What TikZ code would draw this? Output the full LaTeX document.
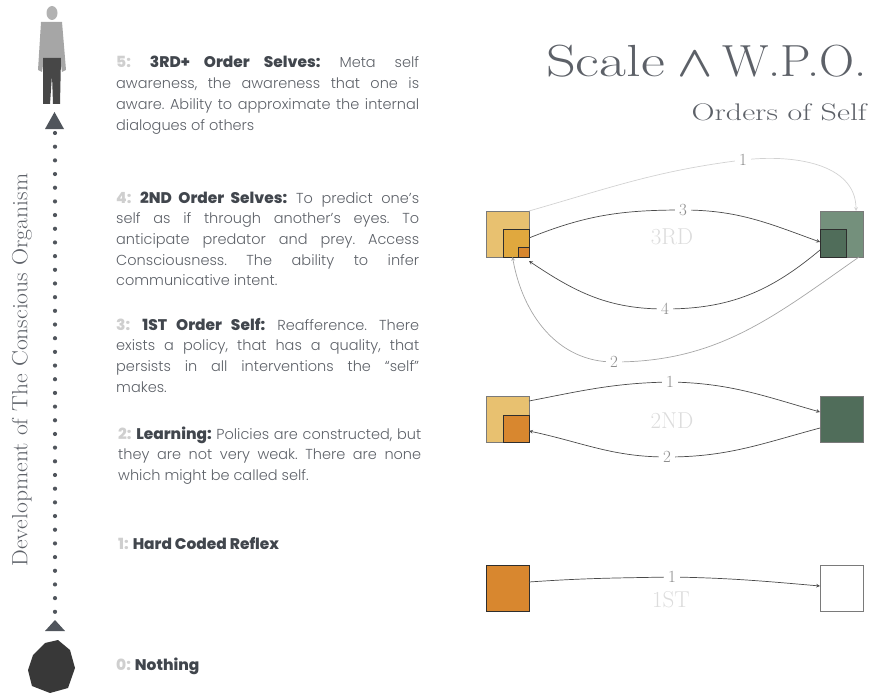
\documentclass[tikz,border=0pt]{standalone}
\usepackage{fontspec}
\usepackage{graphicx}
\usepackage{xcolor}
\usetikzlibrary{positioning}

\newfontfamily\bodyfont{Poppins Light}[BoldFont={Poppins ExtraBold}]
\hyphenpenalty=10000
\exhyphenpenalty=10000
\frenchspacing

\definecolor{txtgray}{HTML}{5D6168}
\definecolor{headgray}{HTML}{41464D}
\definecolor{numgray}{HTML}{CFCFCF}
\definecolor{axisgray}{HTML}{50555C}
\definecolor{ochrelight}{HTML}{E8C170}
\definecolor{ochre}{HTML}{E0A83E}
\definecolor{orangeb}{HTML}{D8872F}
\definecolor{sagelight}{HTML}{74907C}
\definecolor{sagedark}{HTML}{506D5A}
\definecolor{boxgray}{HTML}{7A7A7A}
\definecolor{boxdark}{HTML}{2E2E2E}
\definecolor{edgegray}{HTML}{4A4A4A}
\definecolor{midgray}{HTML}{A6A6A6}
\definecolor{faintgray}{HTML}{D2D2D2}
\definecolor{lblgray}{HTML}{8C8C8C}
\definecolor{ordgray}{HTML}{DCDCDC}

\newcommand{\ordhead}[2]{{\bfseries\fontsize{15.4}{20.7}\selectfont\color{numgray}#1:}
    {\bfseries\fontsize{15.4}{20.7}\selectfont\color{headgray}#2}}
\newcommand{\wide}[2]{\scalebox{#1}[1]{#2}}

\tikzset{
    blurb/.style={anchor=base west, text width=303pt, inner sep=0pt,
        align=justify, text=txtgray,
        font=\bodyfont\fontsize{14.5}{20.7}\selectfont},
    outbox/.style={draw=boxgray, line width=0.8pt, minimum width=43pt,
        minimum height=46pt, inner sep=0pt, outer sep=0pt},
    inbox/.style={draw=boxdark, line width=0.8pt, inner sep=0pt, outer sep=0pt},
    edge/.style={-stealth, draw=edgegray, line width=0.7pt},
    softedge/.style={-stealth, draw=midgray, line width=0.7pt},
    faintedge/.style={-stealth, draw=faintgray, line width=0.7pt},
    lbl/.style={fill=white, inner xsep=4pt, inner ysep=1pt, text=lblgray,
        font=\fontsize{17}{17}\selectfont},
    ordlbl/.style={text=ordgray, font=\fontsize{23}{23}\selectfont}
}

\begin{document}
\begin{tikzpicture}[x=1pt,y=1pt]

    \useasboundingbox (0,0) rectangle (871,-693);

    % title
    \node[anchor=base east, inner sep=0pt, text=txtgray,
        font=\fontsize{45}{45}\selectfont] (title) at (867,-77)
        {\wide{1.3}{Scale}\hspace{13pt}\scalebox{1.85}[1.75]{\boldmath$\wedge$}\hspace{9pt}\wide{1.08}{W.P.O.}};
    \node[anchor=base east, inner sep=0pt, text=txtgray,
        font=\fontsize{24}{24}\selectfont] (subtitle) at (867,-121)
        {\wide{1.33}{Orders of Self}};

    % axis
    \node[rotate=90, text=txtgray, font=\fontsize{22}{22}\selectfont]
        (axislabel) at (22,-370) {\wide{1.075}{Development of The Conscious Organism}};
    \foreach \i in {0,...,35}
        \fill[axisgray] (55,-133-13.68*\i) circle (2.1pt);
    \fill[axisgray] (45,-129) -- (54.5,-112) -- (64,-129) -- cycle;
    \fill[axisgray] (45,-631) -- (55,-620) -- (65,-631) -- cycle;

    % human and rock
    \fill[black!30] (52,-13) ellipse (5.5 and 7);
    \fill[black!35] (41,-22) -- (62,-22) -- (66,-70) -- (62,-72)
        -- (60,-58) -- (44,-58) -- (42,-72) -- (38,-70) -- cycle;
    \fill[black!72] (43,-58) -- (61,-58) -- (60,-104) -- (53,-104)
        -- (52,-75) -- (50,-104) -- (43,-104) -- cycle;
    \fill[black!78] (33,-655) -- (45,-643) -- (58,-640) -- (70,-650)
        -- (75,-668) -- (68,-688) -- (50,-693) -- (32,-686)
        -- (28,-670) -- cycle;

    % orders
    \node[blurb] (o5) at (116,-68) {\ordhead{5}{3RD+ Order Selves:} Meta self\linebreak
        awareness, the awareness that one is\linebreak
        aware. Ability to approximate the internal\linebreak
        dialogues of others};
    \node[blurb] (o4) at (116,-203) {\ordhead{4}{2ND Order Selves:} To predict one’s\linebreak
        self as if through another’s eyes. To\linebreak
        anticipate predator and prey. Access\linebreak
        Consciousness. The ability to infer\linebreak
        communicative intent.};
    \node[blurb] (o3) at (116,-330) {\ordhead{3}{1ST Order Self:} Reafference. There\linebreak
        exists a policy, that has a quality, that\linebreak
        persists in all interventions the “self”\linebreak
        makes.};
    \node[blurb] (o2) at (118,-439) {\ordhead{2}{Learning:} Policies are constructed, but\linebreak
        they are not very weak. There are none\linebreak
        which might be called self.};
    \node[blurb] (o1) at (118,-549) {\ordhead{1}{Hard Coded Reflex}};
    \node[blurb] (o0) at (116,-670) {\ordhead{0}{Nothing}};

    % 3RD
    \node[outbox, fill=ochrelight] (L3) at (507.5,-234) {};
    \node[outbox, fill=sagelight, right=291pt of L3] (R3) {};
    \node[inbox, fill=ochre, minimum width=26pt, minimum height=28pt,
        anchor=south east] (L3m) at (L3.south east) {};
    \node[inbox, fill=orangeb, minimum width=11pt, minimum height=10pt,
        anchor=south east] (L3s) at (L3.south east) {};
    \node[inbox, fill=sagedark, minimum width=26pt, minimum height=28pt,
        anchor=south west] (R3m) at (R3.south west) {};
    \node[ordlbl] (t3) at (672,-237) {3RD};

    \coordinate (k31) at (743,-160);
    \coordinate (k33) at (683,-210);
    \coordinate (k34) at (665,-309);
    \coordinate (k32) at (614,-362);

    \draw[faintedge] (L3.north east) to[out=16,in=187] (k31)
        node[lbl] (n31) {1} to[out=7,in=90] ([xshift=-7pt]R3.north east);
    \draw[edge] ([yshift=-4pt]L3.east) to[out=22,in=180] (k33)
        node[lbl] (n33) {3} to[out=0,in=160] ([yshift=-8pt]R3.west);
    \draw[edge] ([yshift=-16pt]R3.west) to[out=220,in=0] (k34)
        node[lbl] (n34) {4} to[out=180,in=-34] ([yshift=-4pt]L3.south east);
    \draw[softedge] ([xshift=-4pt]R3.south east) to[out=215,in=0] (k32)
        node[lbl] (n32) {2} to[out=180,in=-80] ([xshift=5pt]L3.south);

    % 2ND
    \node[outbox, fill=ochrelight, below=139pt of L3] (L2) {};
    \node[outbox, fill=sagedark, right=291pt of L2] (R2) {};
    \node[inbox, fill=orangeb, minimum width=26pt, minimum height=27pt,
        anchor=south east] (L2m) at (L2.south east) {};
    \node[ordlbl] (t2) at (672,-421) {2ND};

    \coordinate (k21) at (670,-382);
    \coordinate (k22) at (667,-457);

    \draw[edge] ([yshift=18pt]L2.east) to[out=11,in=181] (k21)
        node[lbl] (n21) {1} to[out=-1,in=164] ([yshift=7pt]R2.west);
    \draw[edge] ([yshift=-9pt]R2.west) to[out=195,in=0] (k22)
        node[lbl] (n22) {2} to[out=180,in=-12] ([yshift=-12pt]L2.east);

    % 1ST
    \node[outbox, draw=boxdark, fill=orangeb, below=123pt of L2] (L1) {};
    \node[outbox, fill=white, right=291pt of L1] (R1) {};
    \node[ordlbl] (t1) at (671,-600) {1ST};

    \coordinate (k11) at (672,-577);

    \draw[edge] ([yshift=6pt]L1.east) to[out=4,in=181] (k11)
        node[lbl] (n11) {1} to[out=-1,in=175] ([yshift=2pt]R1.west);

\end{tikzpicture}
\end{document}
